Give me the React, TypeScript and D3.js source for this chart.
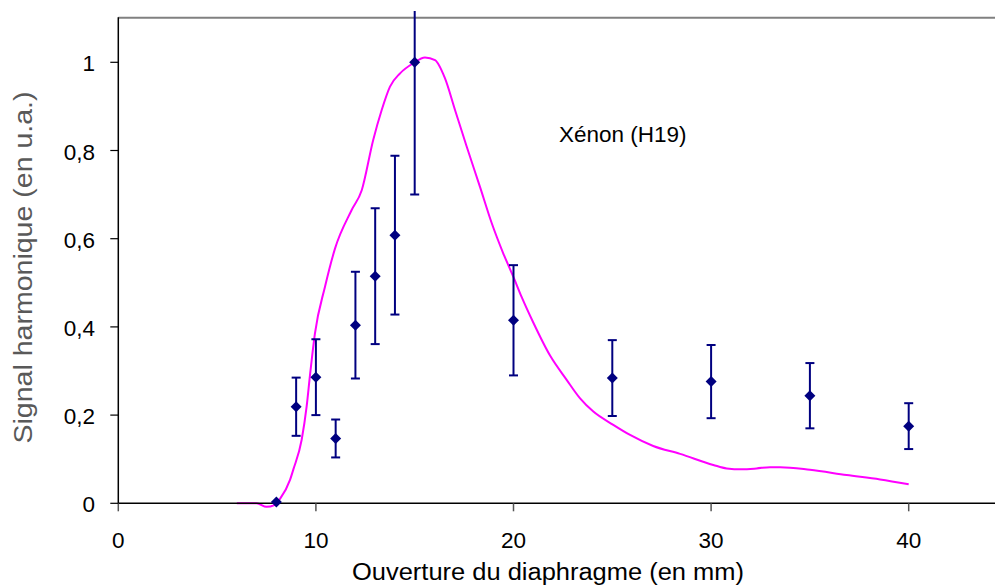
import React from "react";
import * as d3 from "d3";

const apertures = [8, 9, 10, 11, 12, 13, 14, 15, 20, 25, 30, 35, 40];
const signal = [0.003, 0.219, 0.286, 0.147, 0.404, 0.515, 0.608, 1.0, 0.415, 0.284, 0.276, 0.244, 0.175];
const errors = [0, 0.066, 0.086, 0.043, 0.121, 0.154, 0.18, 0.3, 0.125, 0.086, 0.083, 0.074, 0.052];

const curveX = [6.0, 7.0, 7.5, 7.9, 8.2, 8.69, 8.86, 9.28, 9.53, 9.7, 9.95, 10.46, 10.97, 11.81, 12.32, 12.9, 13.33, 13.75, 14.26, 14.93, 15.52, 16.03, 16.53, 17.04, 17.63, 18.3, 18.9, 19.48, 19.99, 20.41, 21.0, 21.85, 22.69, 23.37, 24.04, 25.05, 25.9, 27.07, 28.43, 30.11, 30.79, 31.55, 32.3, 32.98, 33.49, 35.0, 36.86, 38.55, 40.0];
const curveY = [0, 0, -0.008, -0.004, 0.011, 0.053, 0.077, 0.144, 0.219, 0.29, 0.385, 0.491, 0.578, 0.665, 0.71, 0.824, 0.892, 0.945, 0.975, 0.998, 1.011, 1.005, 0.964, 0.892, 0.809, 0.718, 0.635, 0.567, 0.514, 0.468, 0.41, 0.335, 0.28, 0.238, 0.208, 0.178, 0.155, 0.13, 0.112, 0.087, 0.079, 0.077, 0.079, 0.082, 0.082, 0.076, 0.064, 0.054, 0.043];

const xTicks = [0, 10, 20, 30, 40];
const yTicks = [0, 0.2, 0.4, 0.6, 0.8, 1];

const xTitle = "Ouverture du diaphragme (en mm)";
const yTitle = "Signal harmonique (en u.a.)";
const annotation = "Xénon (H19)";

const W = 995;
const H = 585;
const left = 118.3;
const bottom = 503.3;
const pxPerX = 19.76;
const pxPerY = 441;

export default function App() {
  const x = d3.scaleLinear().domain([0, 45]).range([left, left + 45 * pxPerX]);
  const y = d3.scaleLinear().domain([0, 1.1]).range([bottom, bottom - 1.1 * pxPerY]);
  const top = y(1.1);

  const line = d3
    .line<number>()
    .x((_, i) => x(curveX[i]))
    .y((d) => y(d))
    .curve(d3.curveMonotoneX);

  const font = "'Liberation Sans', Arial, sans-serif";
  const navy = "#000080";
  const diamond = "M0,-5.5L5.5,0L0,5.5L-5.5,0Z";

  return (
    <svg
      width={W}
      height={H}
      style={{ position: "absolute", left: 0, top: 0, background: "#fff" }}
      fontFamily={font}
    >
      <defs>
        <clipPath id="plotclip">
          <rect x={left} y={11} width={W - left} height={bottom - 11 + 10} />
        </clipPath>
      </defs>
      <rect x={0} y={0} width={W} height={H} fill="#fff" />

      {/* top border */}
      <line x1={left} x2={W} y1={top - 0.5} y2={top - 0.5} stroke="#808080" strokeWidth={2} />

      {/* curve */}
      <path d={line(curveY) || ""} fill="none" stroke="#FF00FF" strokeWidth={2} clipPath="url(#plotclip)" />

      {/* error bars */}
      <g clipPath="url(#plotclip)" stroke={navy} strokeWidth={2}>
        {apertures.map((a, i) =>
          errors[i] > 0 ? (
            <g key={"e" + i}>
              <line x1={x(a)} x2={x(a)} y1={y(signal[i] + errors[i])} y2={y(signal[i] - errors[i])} />
              <line x1={x(a) - 4.5} x2={x(a) + 4.5} y1={y(signal[i] + errors[i])} y2={y(signal[i] + errors[i])} />
              <line x1={x(a) - 4.5} x2={x(a) + 4.5} y1={y(signal[i] - errors[i])} y2={y(signal[i] - errors[i])} />
            </g>
          ) : null
        )}
      </g>

      {/* x axis */}
      <line x1={left} x2={W} y1={bottom} y2={bottom} stroke="#000" strokeWidth={1.5} />
      {xTicks.map((t) => (
        <g key={"xt" + t}>
          <line x1={x(t)} x2={x(t)} y1={bottom} y2={bottom + 8} stroke="#555" strokeWidth={1.5} />
          <text x={x(t)} y={548} textAnchor="middle" fontSize={22.5} fill="#000">
            {String(t)}
          </text>
        </g>
      ))}

      {/* y axis */}
      <line x1={left} x2={left} y1={top - 1} y2={bottom} stroke="#000" strokeWidth={1.5} />
      {yTicks.map((t) => (
        <g key={"yt" + t}>
          <line x1={left - 8} x2={left} y1={y(t)} y2={y(t)} stroke="#000" strokeWidth={1.2} />
          <text x={95} y={y(t) + 9} textAnchor="end" fontSize={22.5} fill="#000">
            {String(t).replace(".", ",")}
          </text>
        </g>
      ))}

      {/* markers */}
      <g fill={navy}>
        {apertures.map((a, i) => (
          <path key={"m" + i} d={diamond} transform={`translate(${x(a)},${y(signal[i])})`} />
        ))}
      </g>

      <text x={559} y={142} fontSize={22.5} fill="#000">
        {annotation}
      </text>

      <text x={548} y={580} textAnchor="middle" fontSize={23.5} fill="#000" textLength={392} lengthAdjust="spacingAndGlyphs">
        {xTitle}
      </text>

      <text
        transform="translate(32,267.5) rotate(-90)"
        textAnchor="middle"
        fontSize={25}
        fill="#595959"
        textLength={352}
        lengthAdjust="spacingAndGlyphs"
      >
        {yTitle}
      </text>
    </svg>
  );
}
